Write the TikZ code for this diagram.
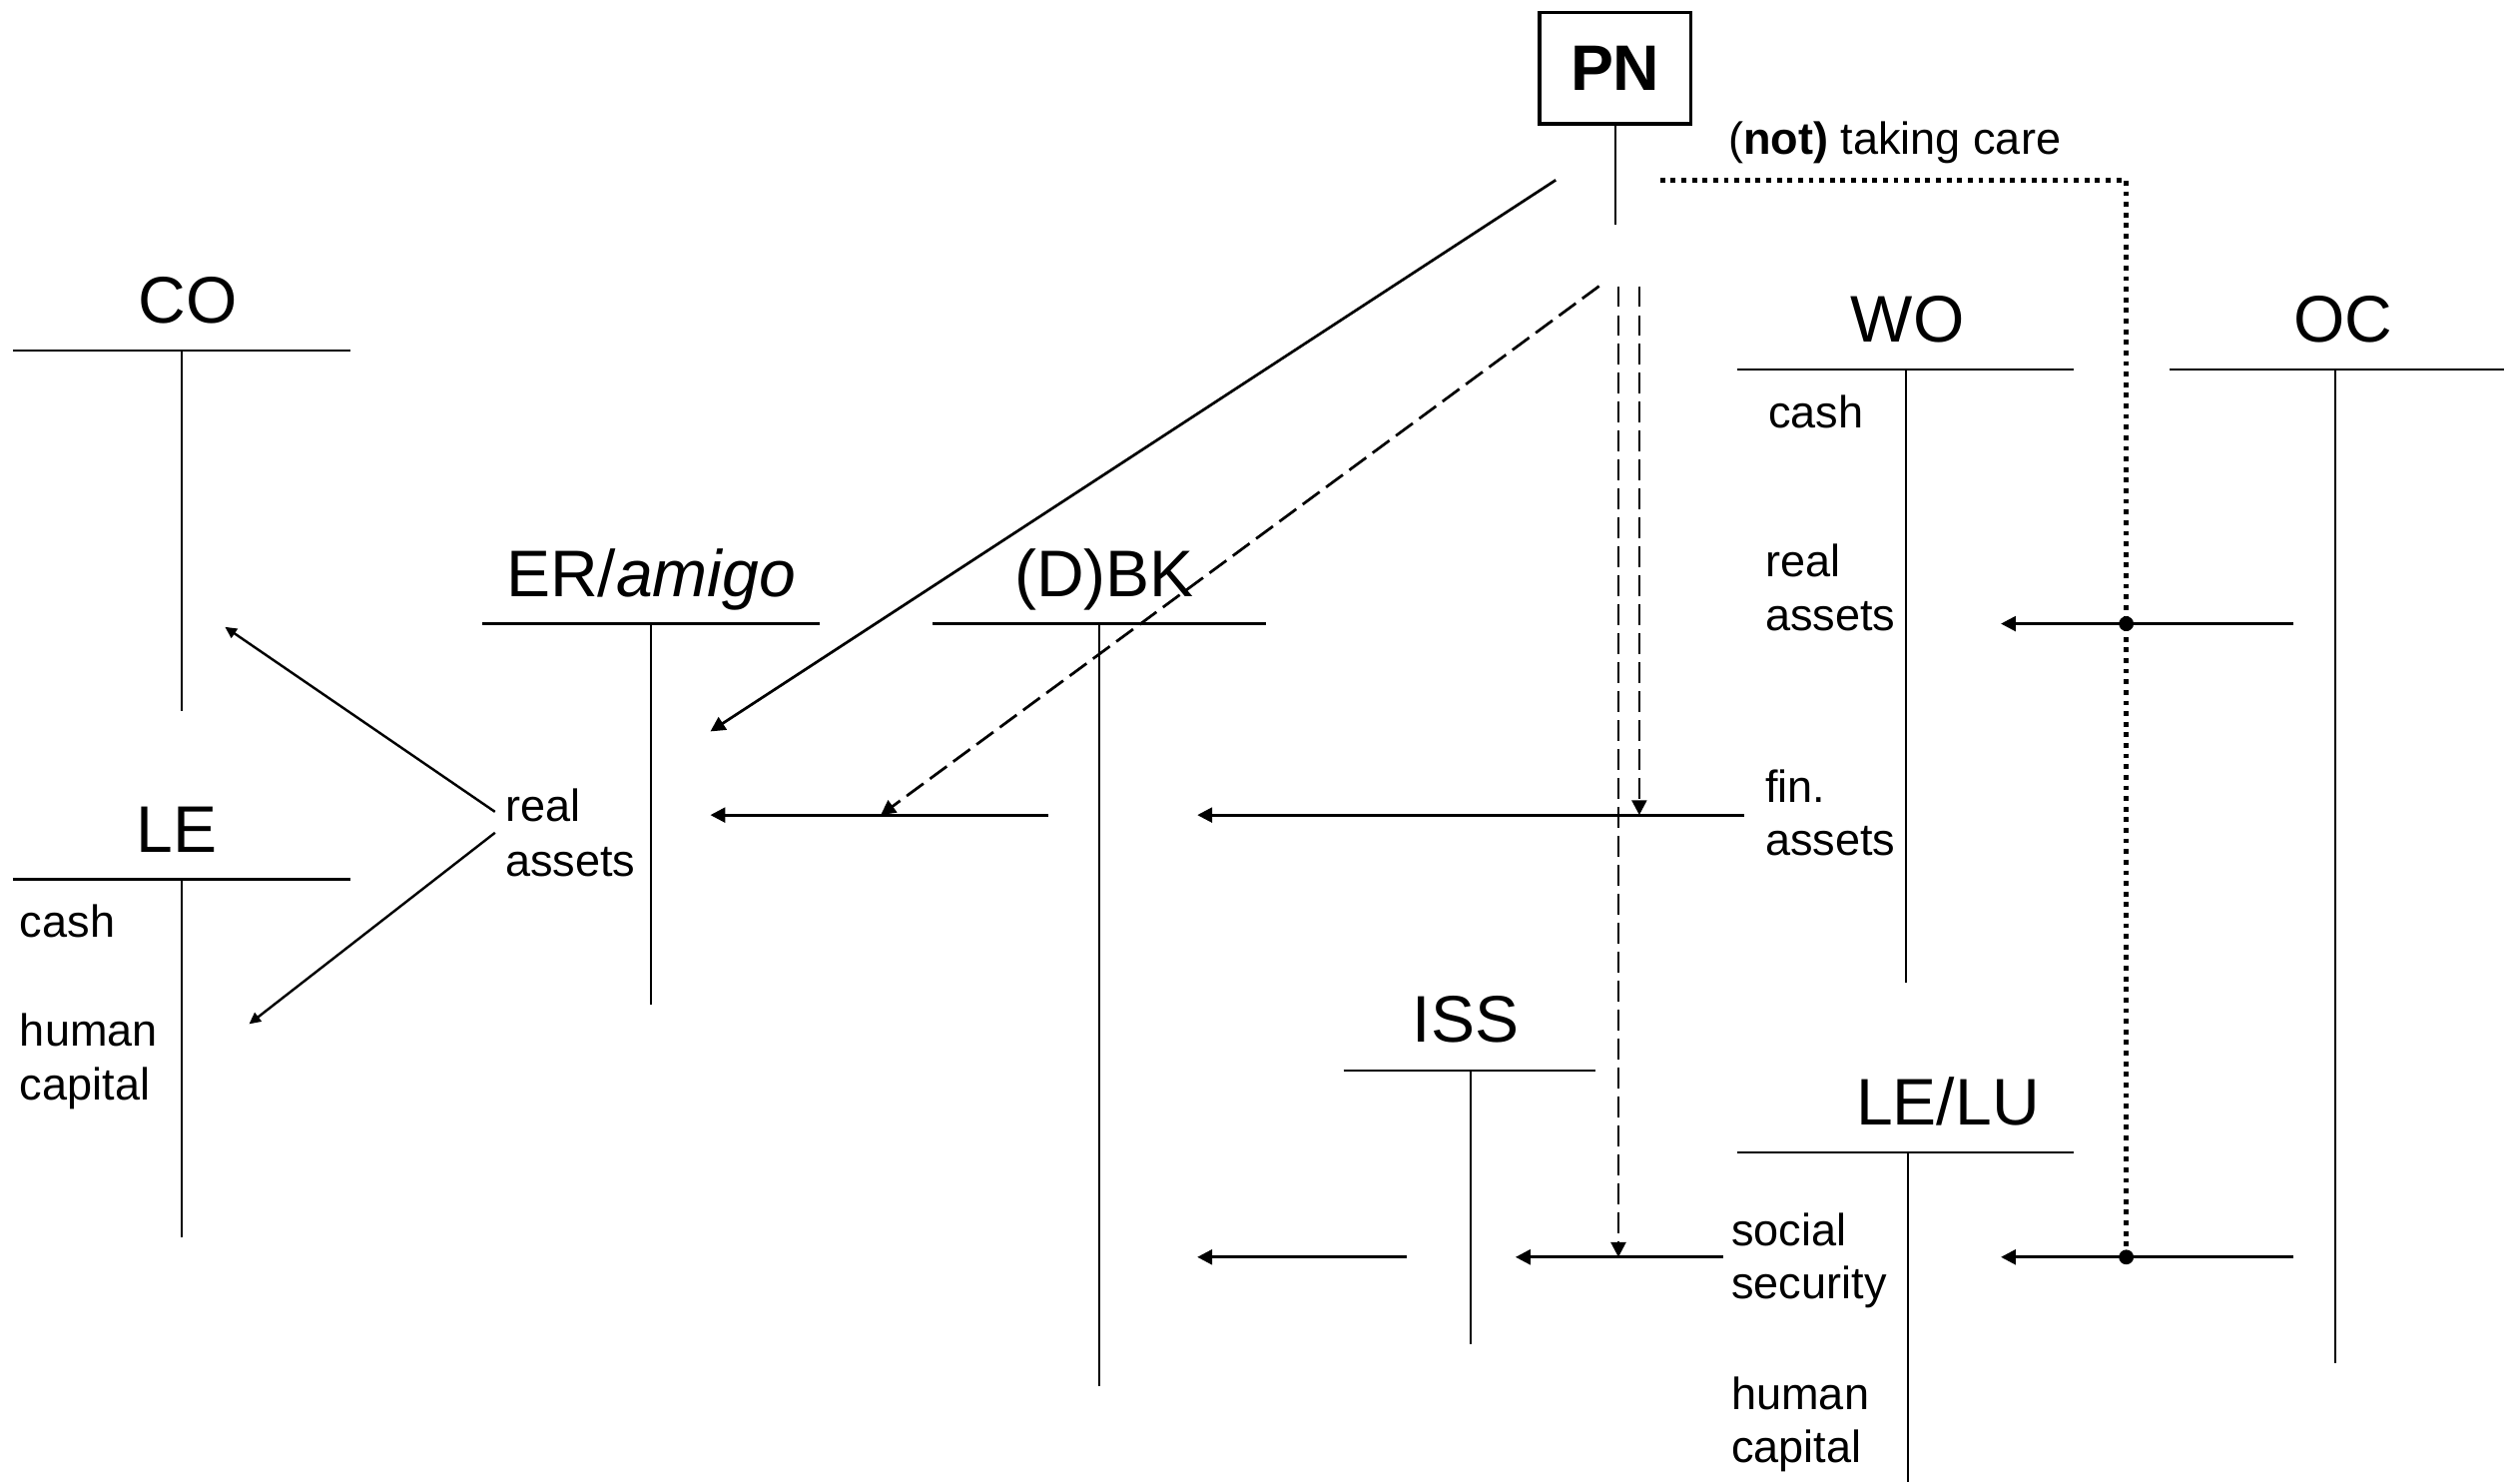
\documentclass[tikz,border=0pt]{standalone}
\usepackage{fontspec}
\setmainfont{Liberation Sans}
\usetikzlibrary{arrows.meta}
\begin{document}
\begin{tikzpicture}[x=0.5pt,y=-0.5pt,
  ttl/.style={font=\fontsize{20.5}{24}\selectfont, inner sep=0pt, anchor=base},
  lbl/.style={font=\fontsize{14}{17}\selectfont, inner sep=0pt, anchor=base west},
  acct/.style={line width=0.75pt},
  arr/.style={line width=0.85pt, -{Triangle[length=4.6pt,width=4.6pt]}},
  sarr/.style={line width=0.75pt, -{Triangle[length=3.6pt,width=3.4pt]}},
  darr/.style={arr, dash pattern=on 6.5pt off 2.5pt},
  dotl/.style={line width=1.6pt, dash pattern=on 1.5pt off 1.8pt},
  jdot/.style={circle, fill, inner sep=0pt, minimum size=4.6pt}]
\useasboundingbox (0,0) rectangle (1568,922);

% ---------- PN ----------
\node[draw, line width=1pt, minimum width=47pt, minimum height=34.5pt,
      font=\bfseries\fontsize{20}{24}\selectfont, inner sep=0pt] (PN) at (1005,42.5) {PN};
\coordinate (PNs) at (1005,140);
\draw[acct] (PN.south) -- (PNs);
\node[lbl] (care) at (1075,96) {(\textbf{not)} taking care};

% ---------- titles ----------
\node[ttl] (CO)   at (117,201) {CO};
\node[ttl] (LE)   at (110,530) {LE};
\node[ttl] (ER)   at (405,371) {ER/\textit{amigo}};
\node[ttl] (DBK)  at (687,371) {(D)BK};
\node[ttl] (WO)   at (1187,213) {WO};
\node[ttl] (OC)   at (1458,213) {OC};
\node[ttl] (ISS)  at (912,648) {ISS};
\node[ttl] (LELU) at (1212,700) {LE/LU};

% ---------- T-accounts ----------
\draw[acct] (8,218) -- (218,218) (113,218) -- (113,442);
\draw[acct] (8,547) -- (218,547) (113,547) -- (113,770);
\draw[acct] (300,388) -- (510,388) (405,388) -- (405,625);
\draw[acct] (580,388) -- (788,388) (684,388) -- (684,862);
\draw[acct] (1081,230) -- (1290,230) (1186,230) -- (1186,611);
\draw[acct] (1350,230) -- (1558,230) (1453,230) -- (1453,848);
\draw[acct] (836,666) -- (993,666) (915,666) -- (915,836);
\draw[acct] (1081,717) -- (1290,717) (1187,717) -- (1187,922);

% ---------- labels ----------
\node[lbl] (LEcash) at (12,583) {cash};
\node[lbl] (LEh1) at (12,651) {human};
\node[lbl] (LEh2) at (12,684) {capital};
\node[lbl] (ERr1) at (314,511) {real};
\node[lbl] (ERr2) at (314,545) {assets};
\node[lbl] (WOc) at (1100,266) {cash};
\node[lbl] (WOr1) at (1098,359) {real};
\node[lbl] (WOr2) at (1098,392) {assets};
\node[lbl] (WOf1) at (1098,499) {fin.};
\node[lbl] (WOf2) at (1098,532) {assets};
\node[lbl] (LUs1) at (1077,775) {social};
\node[lbl] (LUs2) at (1077,808) {security};
\node[lbl] (LUh1) at (1077,877) {human};
\node[lbl] (LUh2) at (1077,910) {capital};

% ---------- coordinates ----------
\coordinate (eA) at (308,505);  \coordinate (CO1) at (140,390);
\coordinate (eB) at (308,518);  \coordinate (LE1) at (155,637);
\coordinate (b1) at (652,507);  \coordinate (er1) at (442,507);
\coordinate (w1) at (1085,507); \coordinate (bk1) at (745,507);
\coordinate (o1) at (1427,388); \coordinate (wo1) at (1245,388);
\coordinate (o2) at (1427,782); \coordinate (lu1) at (1245,782);
\coordinate (s1) at (1072,782); \coordinate (is1) at (943,782);
\coordinate (is2) at (875,782); \coordinate (bk2) at (745,782);
\coordinate (p1) at (968,112);  \coordinate (er2) at (442,455);
\coordinate (p2) at (995,178);  \coordinate (bkA) at (548,507);
\coordinate (p3) at (1007,178); \coordinate (ssA) at (1007,782);
\coordinate (p4) at (1020,178); \coordinate (faA) at (1020,507);
\coordinate (d0) at (1033,112); \coordinate (d1) at (1323,112);
\coordinate (dW) at (1323,388); \coordinate (dL) at (1323,782);

% ---------- connectors ----------
\draw[sarr] (eA) -- (CO1);
\draw[sarr] (eB) -- (LE1);
\draw[arr] (b1) -- (er1);
\draw[arr] (w1) -- (bk1);
\draw[arr] (o1) -- (wo1);
\draw[arr] (o2) -- (lu1);
\draw[arr] (s1) -- (is1);
\draw[arr] (is2) -- (bk2);
\draw[arr] (p1) -- (er2);
\draw[darr] (p2) -- (bkA);
\draw[darr] (p3) -- (ssA);
\draw[darr] (p4) -- (faA);
\draw[dotl] (d0) -- (d1) -- (dL);
\node[jdot] (jW) at (dW) {};
\node[jdot] (jL) at (dL) {};
\end{tikzpicture}
\end{document}
